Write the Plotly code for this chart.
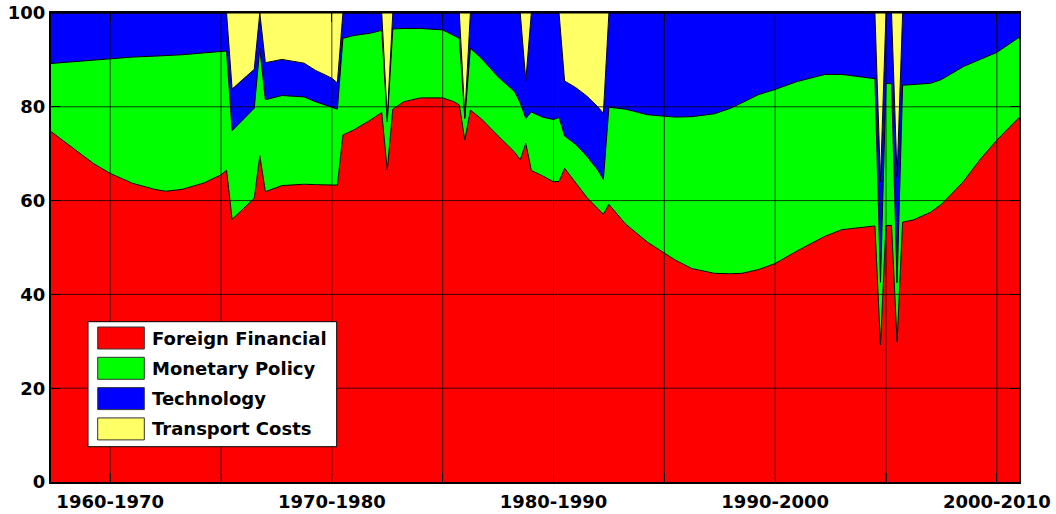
import plotly.graph_objects as go

# ---------------- data ----------------
years = [1962.25, 1963.0, 1964.25, 1965.0, 1966.0, 1967.0, 1967.5, 1968.25, 1969.25, 1970.0,
         1970.25, 1970.5, 1971.5, 1971.75, 1972.0, 1972.75, 1973.75, 1974.25, 1975.0, 1975.25,
         1975.5, 1976.0, 1976.75, 1977.25, 1977.5, 1977.75, 1978.25, 1979.0, 1980.0, 1980.5,
         1980.75, 1981.0, 1981.25, 1981.75, 1982.5, 1983.25, 1983.5, 1983.75, 1984.0, 1984.5,
         1985.0, 1985.25, 1985.5, 1986.0, 1986.5, 1987.0, 1987.25, 1987.5, 1988.25, 1989.25,
         1990.5, 1991.25, 1992.25, 1993.0, 1993.5, 1994.25, 1995.0, 1996.0, 1997.25, 1998.0, 1999.0,
         1999.5, 1999.75, 2000.0, 2000.25, 2000.5, 2000.75, 2001.25, 2002.0, 2002.5, 2003.5,
         2004.25, 2005.0, 2006.0]

foreign_financial = [75.0, 72.3, 67.9, 65.8, 63.7, 62.4, 62.0, 62.4, 63.8, 65.5,
                     66.5, 56.0, 60.5, 69.6, 61.9, 63.2, 63.5, 63.4, 63.3, 63.3,
                     74.0, 75.1, 77.2, 78.8, 66.5, 79.5, 81.1, 81.9, 81.9, 81.1,
                     80.4, 72.9, 79.3, 77.4, 73.8, 70.3, 68.7, 72.2, 66.4, 65.3,
                     64.0, 64.1, 66.9, 63.8, 60.7, 58.3, 57.1, 59.2, 55.0, 51.1,
                     47.3, 45.5, 44.5, 44.4, 44.5, 45.3, 46.6, 49.3, 52.4, 53.8, 54.3,
                     54.6, 29.2, 54.7, 54.7, 29.8, 55.4, 55.9, 57.5, 59.2, 64.1,
                     68.8, 72.9, 77.7]

monetary_policy = [14.2, 17.2, 22.0, 24.5, 26.9, 28.4, 28.9, 28.7, 27.7, 26.3,
                   25.4, 18.9, 19.2, 22.9, 19.6, 19.2, 18.6, 17.7, 16.7, 16.2,
                   20.6, 20.1, 18.5, 17.5, 10.3, 17.1, 15.6, 14.8, 14.5, 14.2,
                   14.2, 4.6, 13.2, 12.9, 12.6, 12.9, 12.1, 5.3, 12.5, 12.5,
                   13.3, 13.6, 6.9, 8.2, 8.8, 8.2, 7.4, 20.7, 24.5, 27.2,
                   30.5, 32.4, 34.0, 35.3, 36.3, 37.3, 37.1, 36.1, 34.5, 33.1, 32.0,
                   31.4, 13.4, 30.3, 30.2, 12.7, 29.2, 28.8, 27.5, 26.6, 24.5,
                   21.3, 18.7, 17.1]

technology = [10.8, 10.5, 10.1, 9.7, 9.4, 9.2, 9.1, 8.9, 8.5, 8.2,
              8.1, 8.9, 8.3, 7.5, 7.9, 7.7, 7.2, 6.7, 6.1, 5.6,
              5.4, 4.8, 4.3, 3.7, 0.8, 3.4, 3.3, 3.3, 3.6, 4.7,
              5.4, 0.5, 7.5, 9.7, 13.6, 16.8, 19.2, 8.1, 21.1, 22.2,
              22.7, 22.3, 11.7, 12.1, 12.8, 13.5, 14.1, 20.1, 20.5, 21.7,
              22.2, 22.1, 21.5, 20.3, 19.2, 17.4, 16.3, 14.6, 13.1, 13.1, 13.7,
              14.0, 21.4, 15.0, 15.1, 22.6, 15.4, 15.3, 15.0, 14.2, 11.4,
              9.9, 8.4, 5.2]

transport_costs = [0, 0, 0, 0, 0, 0, 0, 0, 0, 0,
                   0, 16.2, 12.0, 0, 10.6, 9.9, 10.7, 12.2, 13.9, 14.9,
                   0, 0, 0, 0, 22.4, 0, 0, 0, 0, 0,
                   0, 22.0, 0, 0, 0, 0, 0, 14.4, 0, 0,
                   0, 0, 14.5, 15.9, 17.7, 20.0, 21.4, 0, 0, 0,
                   0, 0, 0, 0, 0, 0, 0, 0, 0, 0, 0,
                   0, 36.0, 0, 0, 34.9, 0, 0, 0, 0, 0,
                   0, 0, 0]

series_names = ["Foreign Financial", "Monetary Policy", "Technology", "Transport Costs"]
series_colors = ["#FF0000", "#00FF00", "#0000FF", "#FFFF66"]

x_tick_vals = [1965, 1970, 1975, 1980, 1985, 1990, 1995, 2000, 2005]
x_tick_text = ["1960-1970", "", "1970-1980", "", "1980-1990", "", "1990-2000", "", "2000-2010"]
y_tick_vals = [0, 20, 40, 60, 80, 100]
x_range = [1962.33, 2006.0]
y_range = [0, 100]

# ---------------- figure ----------------
W, H = 1056, 514
PL, PR, PT, PB = 51, 37, 13, 32
plot_w = W - PL - PR
plot_h = H - PT - PB


def px_x(px):
    return (px - PL) / plot_w


def px_y(py):
    return (H - PB - py) / plot_h


FONT = dict(family="DejaVu Sans", size=18, color="black", weight="bold")

fig = go.Figure()
all_values = [foreign_financial, monetary_policy, technology, transport_costs]
for name, vals, col in zip(series_names, all_values, series_colors):
    fig.add_trace(go.Scatter(
        x=years, y=vals, name=name, mode="lines", stackgroup="one",
        fillcolor=col, line=dict(color="black", width=1),
        showlegend=False, hoverinfo="x+y+name",
    ))

shapes = []
grid_col = "rgba(0,0,0,0.75)"
for v in x_tick_vals:
    shapes.append(dict(type="line", xref="x", yref="paper", x0=v, x1=v, y0=0, y1=1,
                       line=dict(color=grid_col, width=1), layer="above"))
for v in y_tick_vals[1:-1]:
    shapes.append(dict(type="line", xref="paper", yref="y", x0=0, x1=1, y0=v, y1=v,
                       line=dict(color=grid_col, width=1), layer="above"))

# custom legend (box, swatches, labels)
shapes.append(dict(type="rect", xref="paper", yref="paper",
                   x0=px_x(88), x1=px_x(336.7), y0=px_y(446.7), y1=px_y(321.7),
                   fillcolor="white", line=dict(color="black", width=1), layer="above"))
annotations = []
row0, row_gap = 338.0, 30.3
for i, (name, col) in enumerate(zip(series_names, series_colors)):
    cy = row0 + i * row_gap
    shapes.append(dict(type="rect", xref="paper", yref="paper",
                       x0=px_x(97.7), x1=px_x(144.3), y0=px_y(cy + 11), y1=px_y(cy - 11),
                       fillcolor=col, line=dict(color="#333333", width=1), layer="above"))
    annotations.append(dict(xref="paper", yref="paper", x=px_x(150), y=px_y(cy),
                            xanchor="left", yanchor="middle", text=name,
                            showarrow=False, font=FONT))

fig.update_layout(
    width=W, height=H,
    margin=dict(l=PL, r=PR, t=PT, b=PB, pad=0),
    paper_bgcolor="white", plot_bgcolor="white",
    showlegend=False,
    shapes=shapes, annotations=annotations,
    xaxis=dict(range=x_range, tickmode="array", tickvals=x_tick_vals, ticktext=x_tick_text,
               ticks="inside", ticklen=9, tickwidth=1, tickcolor="black",
               showline=True, linewidth=2, linecolor="black", mirror="allticks",
               showgrid=False, zeroline=False, tickfont=FONT, layer="above traces",
               automargin=False, ticklabelstandoff=2),
    yaxis=dict(range=y_range, tickmode="array", tickvals=y_tick_vals,
               ticks="inside", ticklen=9, tickwidth=1, tickcolor="black",
               showline=True, linewidth=2, linecolor="black", mirror="allticks",
               showgrid=False, zeroline=False, tickfont=FONT, layer="above traces",
               automargin=False),
)

fig.write_html(
    "out.html",
    config={"displayModeBar": False},
    post_script="document.body.style.margin='0px';document.body.style.padding='0px';"
                "document.body.style.overflow='hidden';",
)
